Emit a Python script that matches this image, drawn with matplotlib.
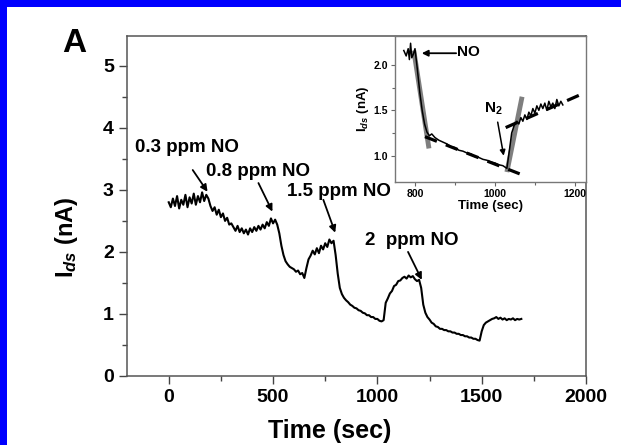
import numpy as np
import matplotlib
matplotlib.use("Agg")
import matplotlib.pyplot as plt
from matplotlib.patches import Rectangle

plt.rcParams['font.family'] = ['Liberation Sans', 'DejaVu Sans']
plt.rcParams['font.weight'] = 'bold'
plt.rcParams['mathtext.fontset'] = 'custom'
plt.rcParams['mathtext.rm'] = 'Liberation Sans:bold'
plt.rcParams['mathtext.it'] = 'Liberation Sans:italic:bold'
plt.rcParams['mathtext.bf'] = 'Liberation Sans:bold'

# ---------------- main trace (time in s, current in nA) ----------------
main_t = np.arange(0, 1700, 10)
main_i = [
    2.80, 2.72, 2.86, 2.74, 2.90, 2.70, 2.84, 2.76, 2.92, 2.72,
    2.88, 2.78, 2.94, 2.76, 2.90, 2.80, 2.96, 2.82, 2.92, 2.86,
    2.74, 2.66, 2.72, 2.60, 2.68, 2.56, 2.62, 2.50, 2.55, 2.44,
    2.46, 2.40, 2.34, 2.42, 2.32, 2.38, 2.30, 2.36, 2.28, 2.38,
    2.32, 2.40, 2.34, 2.42, 2.36, 2.44, 2.38, 2.48, 2.42, 2.54,
    2.46, 2.52, 2.44, 2.30, 2.10, 1.95, 1.85, 1.80, 1.76, 1.74,
    1.72, 1.68, 1.70, 1.64, 1.66, 1.58, 1.74, 1.88, 1.94, 2.02,
    1.96, 2.06, 1.98, 2.10, 2.04, 2.14, 2.08, 2.20, 2.14, 2.18,
    1.95, 1.65, 1.42, 1.32, 1.26, 1.22, 1.19, 1.15, 1.13, 1.10,
    1.09, 1.06, 1.05, 1.02, 1.01, 0.98, 0.98, 0.95, 0.95, 0.92,
    0.92, 0.89, 0.88, 0.90, 1.18, 1.25, 1.33, 1.37, 1.45, 1.47,
    1.53, 1.54, 1.58, 1.60, 1.57, 1.62, 1.59, 1.61, 1.56, 1.53,
    1.55, 1.42, 1.15, 1.02, 0.95, 0.91, 0.86, 0.84, 0.80, 0.79,
    0.76, 0.76, 0.74, 0.74, 0.72, 0.72, 0.70, 0.70, 0.68, 0.68,
    0.66, 0.66, 0.64, 0.64, 0.62, 0.62, 0.60, 0.60, 0.58, 0.57,
    0.72, 0.82, 0.86, 0.88, 0.90, 0.92, 0.93, 0.95, 0.92, 0.94,
    0.91, 0.93, 0.90, 0.92, 0.91, 0.93, 0.90, 0.92, 0.91, 0.92,
]

ann_labels = ['0.3 ppm NO', '0.8 ppm NO', '1.5 ppm NO', '2  ppm NO']
ann_text_xy = [(-160, 3.68), (430, 3.29), (817, 2.98), (1166, 2.19)]
ann_tip_xy = [(186, 2.97), (497, 2.65), (798, 2.31), (1213, 1.55)]
ann_tail_xy = [(115, 3.32), (430, 3.11), (741, 2.84), (1147, 2.00)]

# ---------------- inset trace ----------------
ins_t = [772, 778, 783, 786, 789, 792, 796, 800, 806, 812, 818, 824, 830, 836, 842,
         850, 860, 870, 880, 890, 900, 910, 920, 930, 940, 950, 960, 970, 980, 990,
         1000, 1010, 1020, 1030,
         1036, 1042, 1048, 1055, 1060, 1065, 1070, 1075, 1080, 1085, 1090, 1095,
         1100, 1105, 1110, 1115, 1120, 1125, 1130, 1135, 1140, 1145, 1150, 1155,
         1160, 1165, 1170]
ins_i = [2.16, 2.10, 2.18, 2.06, 2.24, 2.08, 2.12, 2.18, 1.95, 1.70, 1.50, 1.35, 1.26, 1.22, 1.24,
         1.20, 1.17, 1.15, 1.13, 1.10, 1.09, 1.06, 1.05, 1.03, 1.02, 0.99, 0.98, 0.96, 0.95, 0.93,
         0.92, 0.90, 0.89, 0.86,
         1.05, 1.25, 1.33, 1.38, 1.35, 1.42, 1.38, 1.45, 1.40, 1.48, 1.44, 1.52,
         1.47, 1.55, 1.50, 1.57, 1.52, 1.58, 1.50, 1.60, 1.54, 1.58, 1.52, 1.62,
         1.55, 1.60, 1.56]

grey1_t = [797, 835]
grey1_i = [2.16, 1.08]
grey2_t = [1030, 1068]
grey2_i = [0.82, 1.65]
dash1_t = [825, 1062]
dash1_i = [1.21, 0.80]
dash2_t = [1027, 1228]
dash2_i = [1.31, 1.70]

# ---------------- figure ----------------
W, H = 621, 445
fig = plt.figure(figsize=(W / 100, H / 100), dpi=100)
fig.patch.set_facecolor('white')
fig.add_artist(Rectangle((0, 0), 7 / W, 1, transform=fig.transFigure,
                         facecolor='#0000ff', edgecolor='none', zorder=0))
fig.add_artist(Rectangle((0, 1 - 7 / H), 1, 7 / H, transform=fig.transFigure,
                         facecolor='#0000ff', edgecolor='none', zorder=0))

def fr(x0, y0, x1, y1):
    return [x0 / W, 1 - y1 / H, (x1 - x0) / W, (y1 - y0) / H]

ax = fig.add_axes(fr(127, 36, 586, 376))
ax.plot(main_t, main_i, color='black', lw=1.5)
ax.set_xlim(-200, 2000)
ax.set_ylim(0, 5.48)
ax.set_xticks([0, 500, 1000, 1500, 2000])
ax.set_xticks([250, 750, 1250, 1750], minor=True)
ax.set_yticks([0, 1, 2, 3, 4, 5])
ax.set_yticks([0.5, 1.5, 2.5, 3.5, 4.5], minor=True)
ax.tick_params(which='major', direction='out', length=5.5, width=1, labelsize=14,
               color='#444444', pad=4)
ax.tick_params(which='minor', direction='out', length=3.5, width=1, color='#444444')
for s in ax.spines.values():
    s.set_color('#555555')
    s.set_linewidth(1.1)
for lab in ax.get_xticklabels() + ax.get_yticklabels():
    lab.set_fontweight('bold')

for lab, txy, tip, tail in zip(ann_labels, ann_text_xy, ann_tip_xy, ann_tail_xy):
    ax.text(txy[0], txy[1], lab, fontsize=13.5, fontweight='bold',
            ha='left' if lab.startswith('0.3') else 'center', va='center')
    ax.annotate('', xy=tip, xytext=tail,
                arrowprops=dict(arrowstyle='-|>', color='black', lw=1.3,
                                shrinkA=0, shrinkB=0, mutation_scale=10))

fig.text(330 / W, 1 - 431 / H, 'Time (sec)', fontsize=18, fontweight='bold',
         ha='center', va='center')
fig.text(66 / W, 1 - 237 / H, r'I$_{\mathit{ds}}$ (nA)', fontsize=17, fontweight='bold',
         rotation=90, ha='center', va='center')
fig.text(74 / W, 1 - 43 / H, 'A', fontsize=24, fontweight='bold',
         ha='center', va='center')

# ---------------- inset ----------------
ai = fig.add_axes(fr(395, 36, 586, 182))
ai.set_facecolor('white')
ai.plot(grey1_t, grey1_i, color='#7f7f7f', lw=3.5, solid_capstyle='butt', zorder=2)
ai.plot(grey2_t, grey2_i, color='#7f7f7f', lw=3.5, solid_capstyle='butt', zorder=2)
ai.plot(ins_t, ins_i, color='black', lw=1.1, zorder=3)
ai.plot(dash1_t, dash1_i, color='black', lw=2.3, ls=(0, (4, 3)), zorder=4)
ai.plot(dash2_t, dash2_i, color='black', lw=2.3, ls=(0, (4, 3)), zorder=4)
ai.set_xlim(750, 1228)
ai.set_ylim(0.71, 2.32)
ai.set_xticks([800, 1000, 1200])
ai.set_xticks([900, 1100], minor=True)
ai.set_yticks([1.0, 1.5, 2.0])
ai.set_yticks([1.25, 1.75], minor=True)
ai.yaxis.set_major_formatter(matplotlib.ticker.FormatStrFormatter('%.1f'))
ai.tick_params(which='major', direction='out', length=3, width=0.8, labelsize=7.5,
               color='#666666', pad=2)
ai.tick_params(which='minor', direction='out', length=2, width=0.8, color='#666666')
for s in ai.spines.values():
    s.set_color('#777777')
    s.set_linewidth(1.0)
for lab in ai.get_xticklabels() + ai.get_yticklabels():
    lab.set_fontweight('bold')
ai.set_xlabel('Time (sec)', fontsize=9.5, fontweight='bold', labelpad=1)
ai.set_ylabel(r'I$_{\mathit{ds}}$ (nA)', fontsize=9.5, fontweight='bold', labelpad=2)

ai.annotate('', xy=(817, 2.13), xytext=(903, 2.13),
            arrowprops=dict(arrowstyle='-|>', color='black', lw=1.3,
                            shrinkA=0, shrinkB=0, mutation_scale=9))
ai.text(905, 2.14, 'NO', fontsize=11, fontweight='bold', ha='left', va='center')
ai.text(997, 1.52, r'N$_{\mathbf{2}}$', fontsize=11, fontweight='bold',
        ha='center', va='center')
ai.annotate('', xy=(1022, 1.00), xytext=(1007, 1.37),
            arrowprops=dict(arrowstyle='-|>', color='black', lw=1.1,
                            shrinkA=0, shrinkB=0, mutation_scale=8))

fig.savefig('out.png', dpi=100)
